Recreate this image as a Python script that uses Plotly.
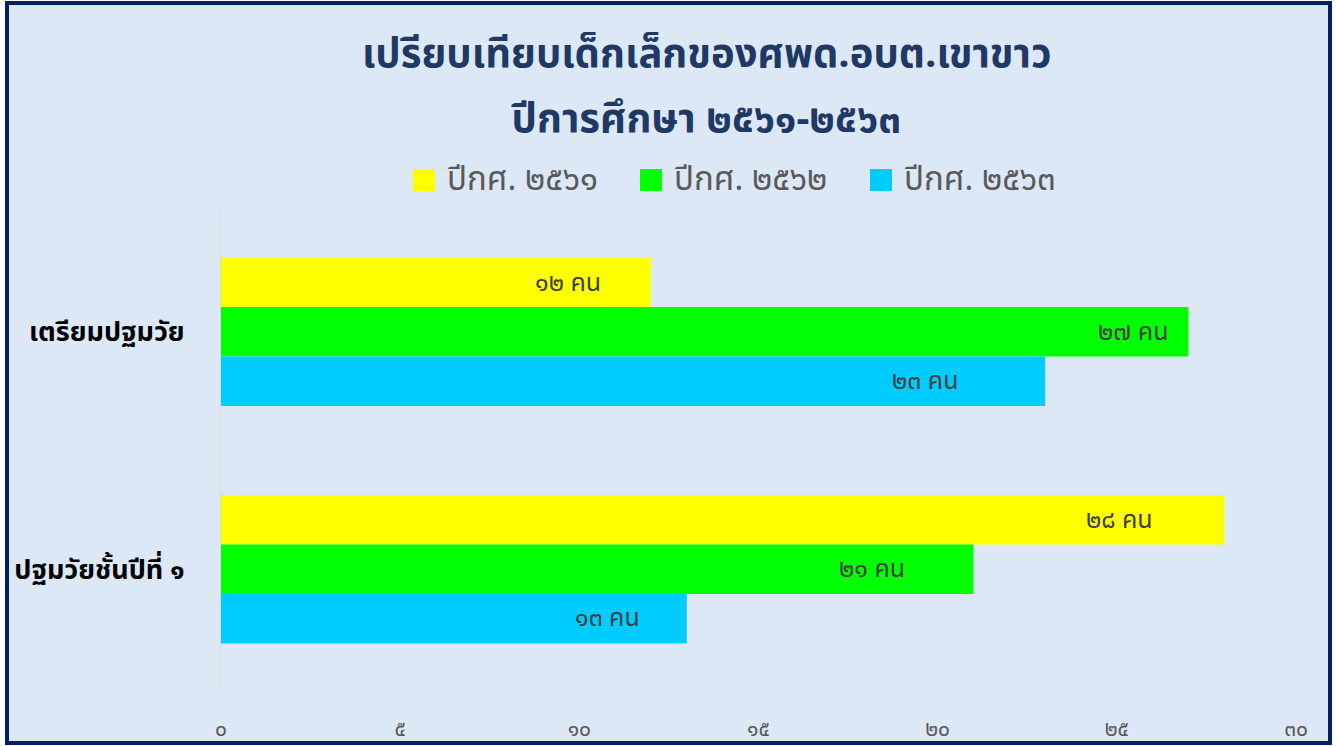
import plotly.graph_objects as go

categories = ["เตรียมปฐมวัย", "ปฐมวัยชั้นปีที่ ๑"]
series_names = ["ปีกศ. ๒๕๖๑", "ปีกศ. ๒๕๖๒", "ปีกศ. ๒๕๖๓"]
values_2561 = [12, 28]
values_2562 = [27, 21]
values_2563 = [23, 13]
series_colors = ["#FFFF00", "#00FF00", "#00CCFF"]
tick_vals = [0, 5, 10, 15, 20, 25, 30]
tick_text = ["๐", "๕", "๑๐", "๑๕", "๒๐", "๒๕", "๓๐"]
title_lines = ["เปรียบเทียบเด็กเล็กของศพด.อบต.เขาขาว", "ปีการศึกษา ๒๕๖๑-๒๕๖๓"]

thai_digits = "๐๑๒๓๔๕๖๗๘๙"


def to_thai(n):
    return "".join(thai_digits[int(c)] for c in str(n))


# label pixel offsets from bar end (style only)
label_shift = [[-48, -69], [-18, -67], [-85, -45]]
# legend item left pixel positions (style only)
legend_x = [413, 640, 870]

W, H = 1337, 746
ml, mr, mt, mb = 221, 41, 213, 58
pw, ph = W - ml - mr, H - mt - mb


def py(p):
    # pixel row -> paper y
    return (ph + mt - p) / ph


def px(p):
    return (p - ml) / pw


FONT = "Noto Sans Thai, Noto Sans, sans-serif"

fig = go.Figure()
all_vals = [values_2561, values_2562, values_2563]
for name, vals, col in zip(series_names, all_vals, series_colors):
    fig.add_trace(go.Bar(
        y=categories, x=vals, name=name, orientation="h",
        marker=dict(color=col, line=dict(width=0)),
        hoverinfo="x+name", showlegend=False,
    ))

fig.update_layout(
    autosize=False,
    barmode="group", bargap=0.375, bargroupgap=0,
    width=W, height=H,
    margin=dict(l=ml, r=mr, t=mt, b=mb, autoexpand=False),
    paper_bgcolor="white", plot_bgcolor="rgba(0,0,0,0)",
    font=dict(family=FONT),
    showlegend=False,
    xaxis=dict(
        range=[0, 30], tickvals=tick_vals, ticktext=tick_text,
        showgrid=False, zeroline=False, showline=False, automargin=False,
        tickfont=dict(size=21, color="#595959"), ticks="", ticklabelstandoff=26,
    ),
    yaxis=dict(
        autorange="reversed", showgrid=False, zeroline=False, automargin=False,
        showline=True, linecolor="#D9D9D9", linewidth=1,
        tickfont=dict(size=27, color="#000000", weight="bold"), ticks="",
        ticklabelstandoff=30,
    ),
)

# background + border
fig.add_shape(
    type="rect", xref="paper", yref="paper", layer="below",
    x0=px(7), x1=px(1330), y0=py(743), y1=py(3),
    fillcolor="#DCE8F6", line=dict(color="#002060", width=4),
)

# title lines
for line, yy in zip(title_lines, [55, 120]):
    fig.add_annotation(
        x=px(706), y=py(yy), xref="paper", yref="paper",
        text=line, showarrow=False, xanchor="center", yanchor="middle",
        font=dict(size=40, color="#1F3864", family=FONT, weight="bold"),
    )

# legend (drawn manually for large square swatches)
for name, col, lx in zip(series_names, series_colors, legend_x):
    fig.add_shape(
        type="rect", xref="paper", yref="paper",
        x0=px(lx), x1=px(lx + 22), y0=py(191), y1=py(169),
        fillcolor=col, line=dict(width=0),
    )
    fig.add_annotation(
        x=px(lx + 32), y=py(180), xref="paper", yref="paper",
        text=name, showarrow=False, xanchor="left", yanchor="middle",
        font=dict(size=33, color="#595959", family=FONT),
    )

# bar labels
for si, vals in enumerate(all_vals):
    for ci, v in enumerate(vals):
        fig.add_annotation(
            x=v, y=categories[ci], xref="x", yref="y",
            text=to_thai(v) + " คน", showarrow=False,
            xanchor="right", xshift=label_shift[si][ci],
            yshift=[49, 0, -49][si],
            font=dict(size=25, color="#404040"),
        )

fig.write_html(
    "out.html",
    config={"responsive": False, "displayModeBar": False},
    post_script="document.body.style.margin='0';document.body.style.overflow='hidden';",
)
